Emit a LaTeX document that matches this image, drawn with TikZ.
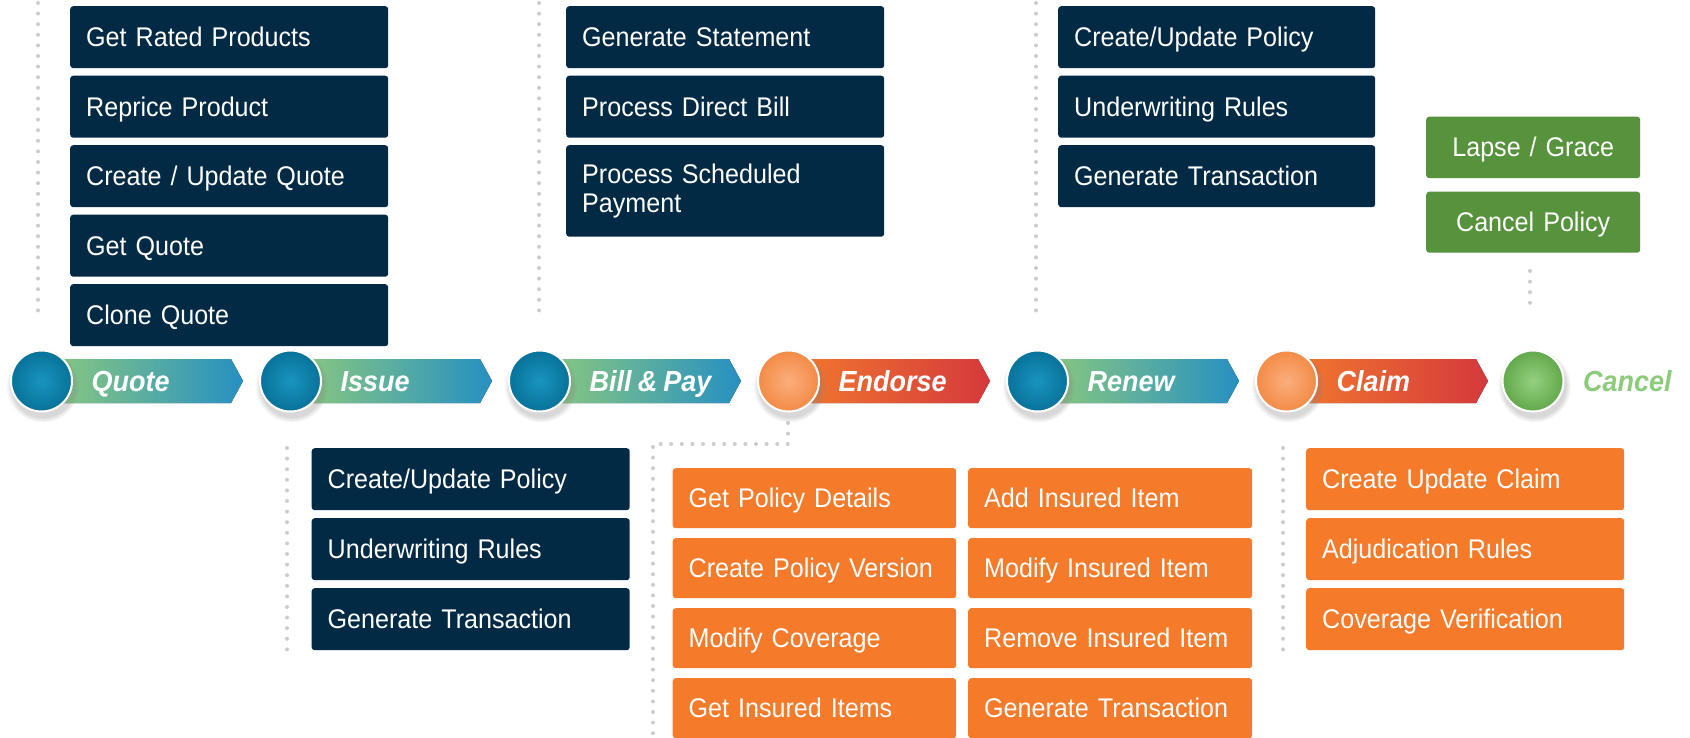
\documentclass[tikz,border=0pt]{standalone}
\usepackage{fontspec}
\setmainfont[FakeStretch=0.93,WordSpace=0.82]{Liberation Sans}
\usetikzlibrary{shadows}
\definecolor{navy}{HTML}{032A45}
\definecolor{orangebox}{HTML}{F57A2A}
\definecolor{greenbox}{HTML}{57933D}
\definecolor{dotgray}{HTML}{CDCDCD}
\definecolor{bgreen}{HTML}{8FCB7C}
\definecolor{bblue}{HTML}{2790C2}
\definecolor{borange}{HTML}{F27A2E}
\definecolor{bred}{HTML}{D5393C}
\definecolor{cblueIn}{HTML}{1994BE}
\definecolor{cblueOut}{HTML}{08729A}
\definecolor{corangeIn}{HTML}{FBAE7C}
\definecolor{corangeOut}{HTML}{F38B47}
\definecolor{cgreenIn}{HTML}{96D07F}
\definecolor{cgreenOut}{HTML}{62A84C}
\definecolor{canceltext}{HTML}{8CCB79}
\tikzset{
  taskbase/.style={rectangle, rounded corners=3pt, anchor=north west, text=white,
    font=\fontsize{27}{29}\selectfont, align=left, inner xsep=16pt, inner ysep=0pt},
  task/.style={taskbase, text height=21pt, text depth=2pt},
  navybox/.style={task, fill=navy},
  orangetask/.style={task, fill=orangebox},
  greentask/.style={task, fill=greenbox, align=center},
  dotline/.style={draw=dotgray, line width=4pt, line cap=round, dash pattern=on 0pt off 10.6pt},
  stagecircle/.style={circle, minimum size=61pt, inner sep=0pt, draw=white, line width=2pt,
    circular drop shadow={shadow xshift=1pt, shadow yshift=-4pt, shadow scale=1.2, opacity=0.3}},
  stagelabel/.style={anchor=base west, font=\fontsize{29}{29}\selectfont\bfseries\itshape, text=white, inner sep=0pt},
}
% #1 name, #2 centre x, #3 left colour, #4 right colour, #5 inner, #6 outer, #7 label
\newcommand{\mystage}[7]{%
  \fill[left color=#3, right color=#4] (#2,359) -- (#2+189.5,359) -- (#2+201.5,381) -- (#2+189.5,403) -- (#2,403) -- cycle;
  \node[stagecircle, inner color=#5, outer color=#6] (#1) at (#2,381) {};
  \node[stagelabel] (#1-lbl) at (#2+50,391) {#7};
}
\begin{document}
\begin{tikzpicture}[x=1pt,y=-1pt]
\useasboundingbox (0,0) rectangle (1690,738);
\fill[white] (0,0) rectangle (1690,738);

% dotted guide lines
\coordinate (dq1) at (38,3);    \coordinate (dq2) at (38,315);
\coordinate (db1) at (539,3);   \coordinate (db2) at (539,315);
\coordinate (dr1) at (1036,3);  \coordinate (dr2) at (1036,315);
\coordinate (dc1) at (1530,271);\coordinate (dc2) at (1530,313);
\coordinate (di1) at (287,448); \coordinate (di2) at (287,650);
\coordinate (dl1) at (1283,448);\coordinate (dl2) at (1283,650);
\coordinate (de1) at (788,423); \coordinate (de2) at (788,444);
\coordinate (de3) at (653,444); \coordinate (de4) at (653,740);
\draw[dotline] (dq1) -- (dq2);
\draw[dotline] (db1) -- (db2);
\draw[dotline] (dr1) -- (dr2);
\draw[dotline] (dc1) -- (dc2);
\draw[dotline] (di1) -- (di2);
\draw[dotline] (dl1) -- (dl2);
\draw[dotline] (de1) -- (de2) -- (de3) -- (de4);

% stages
\mystage{quote}{41.5}{bgreen}{bblue}{cblueIn}{cblueOut}{Quote}
\mystage{issue}{290.5}{bgreen}{bblue}{cblueIn}{cblueOut}{Issue}
\mystage{bill}{539.5}{bgreen}{bblue}{cblueIn}{cblueOut}{Bill \& Pay}
\mystage{endorse}{788.5}{borange}{bred}{corangeIn}{corangeOut}{Endorse}
\mystage{renew}{1037.5}{bgreen}{bblue}{cblueIn}{cblueOut}{Renew}
\mystage{claim}{1286.5}{borange}{bred}{corangeIn}{corangeOut}{Claim}
\node[stagecircle, inner color=cgreenIn, outer color=cgreenOut] (cancel) at (1533,381) {};
\node[stagelabel, text=canceltext] (cancel-lbl) at (1583,391) {Cancel};

% Quote column
\node[navybox, minimum width=318pt, minimum height=62pt, text width=286pt] (q1) at (70,6) {Get Rated Products};
\node[navybox, minimum width=318pt, minimum height=62pt, text width=286pt] (q2) at (70,75.5) {Reprice Product};
\node[navybox, minimum width=318pt, minimum height=62pt, text width=286pt] (q3) at (70,145) {Create / Update Quote};
\node[navybox, minimum width=318pt, minimum height=62pt, text width=286pt] (q4) at (70,214.5) {Get Quote};
\node[navybox, minimum width=318pt, minimum height=62pt, text width=286pt] (q5) at (70,284) {Clone Quote};

% Bill & Pay column
\node[navybox, minimum width=318pt, minimum height=62pt, text width=286pt] (b1) at (566,6) {Generate Statement};
\node[navybox, minimum width=318pt, minimum height=62pt, text width=286pt] (b2) at (566,75.5) {Process Direct Bill};
\node[taskbase, fill=navy, minimum width=318pt, minimum height=91.5pt, text width=286pt] (b3) at (566,145) {Process Scheduled\\Payment};

% Renew column
\node[navybox, minimum width=317pt, minimum height=62pt, text width=285pt] (r1) at (1058,6) {Create/Update Policy};
\node[navybox, minimum width=317pt, minimum height=62pt, text width=285pt] (r2) at (1058,75.5) {Underwriting Rules};
\node[navybox, minimum width=317pt, minimum height=62pt, text width=285pt] (r3) at (1058,145) {Generate Transaction};

% Cancel column
\node[greentask, minimum width=214pt, minimum height=61.5pt, text width=182pt] (c1) at (1426,116.5) {Lapse / Grace};
\node[greentask, minimum width=214pt, minimum height=61pt, text width=182pt] (c2) at (1426,191.5) {Cancel Policy};

% Issue column
\node[navybox, minimum width=318pt, minimum height=62pt, text width=286pt] (i1) at (311.5,448) {Create/Update Policy};
\node[navybox, minimum width=318pt, minimum height=62pt, text width=286pt] (i2) at (311.5,518) {Underwriting Rules};
\node[navybox, minimum width=318pt, minimum height=62pt, text width=286pt] (i3) at (311.5,588) {Generate Transaction};

% Endorse columns
\node[orangetask, minimum width=283.5pt, minimum height=60pt, text width=251.5pt] (e1) at (672.5,468) {Get Policy Details};
\node[orangetask, minimum width=283.5pt, minimum height=60pt, text width=251.5pt] (e2) at (672.5,538) {Create Policy Version};
\node[orangetask, minimum width=283.5pt, minimum height=60pt, text width=251.5pt] (e3) at (672.5,608) {Modify Coverage};
\node[orangetask, minimum width=283.5pt, minimum height=60pt, text width=251.5pt] (e4) at (672.5,678) {Get Insured Items};
\node[orangetask, minimum width=284pt, minimum height=60pt, text width=252pt] (f1) at (968,468) {Add Insured Item};
\node[orangetask, minimum width=284pt, minimum height=60pt, text width=252pt] (f2) at (968,538) {Modify Insured Item};
\node[orangetask, minimum width=284pt, minimum height=60pt, text width=252pt] (f3) at (968,608) {Remove Insured Item};
\node[orangetask, minimum width=284pt, minimum height=60pt, text width=252pt] (f4) at (968,678) {Generate Transaction};

% Claim column
\node[orangetask, minimum width=318pt, minimum height=62pt, text width=286pt] (l1) at (1306,448) {Create Update Claim};
\node[orangetask, minimum width=318pt, minimum height=62pt, text width=286pt] (l2) at (1306,518) {Adjudication Rules};
\node[orangetask, minimum width=318pt, minimum height=62pt, text width=286pt] (l3) at (1306,588) {Coverage Verification};
\end{tikzpicture}
\end{document}
